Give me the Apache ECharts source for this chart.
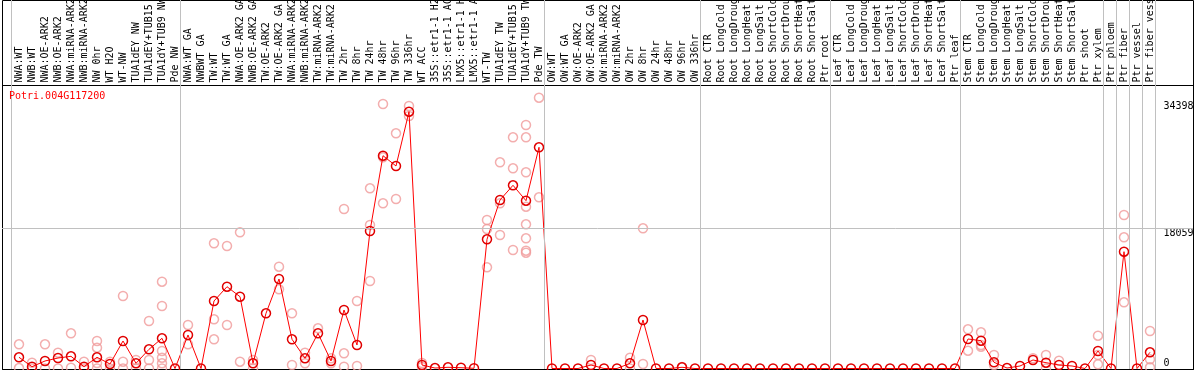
<!DOCTYPE html>
<html><head><meta charset="utf-8">
<script src="https://cdn.jsdelivr.net/npm/echarts@6/dist/echarts.min.js"></script>
<style>html,body{margin:0;padding:0;background:#fff}#c{width:1194px;height:370px}</style>
</head><body><div id="c"></div>
<script>
const geneId = 'Potri.004G117200';

const categories = [
  'NWA:WT','NWB:WT','NWA:OE-ARK2','NWB:OE-ARK2','NWA:miRNA-ARK2','NWB:miRNA-ARK2','NW 0hr','WT H2O','WT-NW','TUA1dEY NW','TUA1dEY+TUB15 NW','TUA1dY+TUB9 NW','Pde NW',
  'NWA:WT GA','NWBWT GA','TW:WT','TW:WT GA','NWA:OE-ARK2 GA','NWB:OE-ARK2 GA','TW:OE-ARK2','TW:OE-ARK2 GA','NWA:miRNA-ARK2','NWB:miRNA-ARK2','TW:miRNA-ARK2','TW:miRNA-ARK2','TW 2hr','TW 8hr','TW 24hr','TW 48hr','TW 96hr','TW 336hr','WT ACC','35S::etr1-1 H2O','35S::etr1-1 ACC','LMX5::etr1-1 H2O','LMX5::etr1-1 ACC','WT-TW','TUA1dEY TW','TUA1dEY+TUB15 TW','TUA1dY+TUB9 TW','Pde TW',
  'OW:WT','OW:WT GA','OW:OE-ARK2','OW:OE-ARK2 GA','OW:miRNA-ARK2','OW:miRNA-ARK2','OW 2hr','OW 8hr','OW 24hr','OW 48hr','OW 96hr','OW 336hr',
  'Root CTR','Root LongCold','Root LongDrought','Root LongHeat','Root LongSalt','Root ShortCold','Root ShortDrought','Root ShortHeat','Root ShortSalt','Ptr root',
  'Leaf CTR','Leaf LongCold','Leaf LongDrought','Leaf LongHeat','Leaf LongSalt','Leaf ShortCold','Leaf ShortDrought','Leaf ShortHeat','Leaf ShortSalt','Ptr leaf',
  'Stem CTR','Stem LongCold','Stem LongDrought','Stem LongHeat','Stem LongSalt','Stem ShortCold','Stem ShortDrought','Stem ShortHeat','Stem ShortSalt','Ptr shoot','Ptr xylem',
  'Ptr phloem','Ptr fiber','Ptr vessel','Ptr fiber vessel'
];

const means = [
  1443, 232, 966, 1352, 1571, 232, 1443, 580, 3542, 670, 2473, 3890, 0,
  4315, 0, 8694, 10536, 9248, 670, 7110, 11528, 3761, 1314, 4534, 966, 7535, 3027, 17710, 27409, 26082, 33076, 451, 60, 155, 100, 30, 16641, 21703, 23596, 21613, 28491,
  0, 0, 0, 451, 0, 0, 670, 6247, 0, 0, 155, 0,
  0, 0, 0, 0, 0, 0, 0, 0, 0, 0,
  0, 0, 0, 0, 0, 0, 0, 0, 0, 0,
  3800, 3581, 799, 60, 322, 1095, 747, 451, 322, 0, 2254,
  0, 15044, 0, 2087
];

const replicates = [
  [3117, 60], [747, 0], [3117, 0], [2035, 0], [4534, 100], [876, 0], [3542, 2679, 708, 0], [876, 0], [9338, 876, 0], [1095, 0], [6118, 1095, 0], [11180, 8050, 2254, 1391, 670, 0], [],
  [5603, 3117], [], [16126, 6337, 3761], [15778, 5603], [17543, 876], [1095, 0], [], [13112, 10201], [7110, 451], [2035, 670], [5178], [1314, 670], [20544, 1958, 232], [8694, 322], [23210, 18483, 11270], [34068, 27203, 21278], [30294, 21832], [33810, 32522], [700, 200], [], [], [], [], [19127, 17968, 13035], [26559, 21278, 17195], [29779, 25786, 15263], [31363, 29779, 25271, 20840, 18573, 16770, 15173, 14915], [34880, 22051],
  [], [], [], [1095], [], [], [1391, 0], [18058, 580], [], [], [200], [],
  [], [], [], [], [], [], [], [], [], [],
  [], [], [], [], [], [], [], [], [], [],
  [5049, 2293], [4663, 3027, 2808], [1739, 451], [], [], [1314], [1739, 0], [1005], [], [], [4225, 1739, 541],
  [], [19771, 16899, 8527], [], [4830, 1185, 155]
];

const yTopLabels = [18059, 34398];
const yBottomLabels = [0];
const refLineValue = 18059;
const groupBoundaries = [0, 13, 41, 53, 63, 73, 84, 85, 86, 87, 88];
const Y_MAX = 36450;

const repData = [];
replicates.forEach(function (arr, i) { arr.forEach(function (v) { repData.push([i, v]); }); });

const mono = 'DejaVu Sans Mono';
const chart = echarts.init(document.getElementById('c'), null, { renderer: 'canvas' });
const hiddenVal = function (g, max) { return { gridIndex: g, type: 'value', min: 0, max: max, show: false }; };
const plain = function (v) { return String(v); };
chart.setOption({
  animation: false,
  backgroundColor: '#ffffff',
  title: { text: geneId, left: 9, top: 91, padding: 0, textStyle: { color: '#ff0000', fontFamily: mono, fontSize: 10, fontWeight: 'normal' } },
  grid: [
    { left: 12.5, right: 37.5, top: 85.5, bottom: 1.5, containLabel: false, outerBoundsMode: 'none' },
    { left: 11.5, right: 38.5, top: 0, bottom: 1, outerBoundsMode: 'none' },
    { left: 2, right: 1, top: 85.5, bottom: 1.5, outerBoundsMode: 'none' },
    { left: 2.5, right: 0.5, top: 0.5, bottom: 0.5, show: true, borderColor: '#000', borderWidth: 1, outerBoundsMode: 'none' },
    { left: 2.5, right: 0.5, top: 85.5, bottom: 0.5, show: true, borderColor: '#000', borderWidth: 1, outerBoundsMode: 'none' }
  ],
  xAxis: [
    { gridIndex: 0, type: 'category', data: categories, position: 'top', boundaryGap: true,
      axisLine: { show: false }, axisTick: { show: false }, splitLine: { show: false },
      axisLabel: { interval: 0, rotate: 90, margin: 3, fontFamily: mono, fontSize: 10, color: '#000' } },
    hiddenVal(1, 88), hiddenVal(2, 1), hiddenVal(3, 1), hiddenVal(4, 1)
  ],
  yAxis: [
    { gridIndex: 0, type: 'value', min: 0, max: Y_MAX, position: 'right',
      axisLine: { show: false }, axisTick: { show: false }, splitLine: { show: false },
      axisLabel: { customValues: yTopLabels, formatter: plain, verticalAlign: 'top', align: 'left', margin: 7, fontFamily: mono, fontSize: 10, color: '#000' } },
    { gridIndex: 0, type: 'value', min: 0, max: Y_MAX, position: 'right',
      axisLine: { show: false }, axisTick: { show: false }, splitLine: { show: false },
      axisLabel: { customValues: yBottomLabels, formatter: plain, verticalAlign: 'bottom', align: 'left', margin: 7, fontFamily: mono, fontSize: 10, color: '#000' } },
    hiddenVal(1, 1), hiddenVal(2, Y_MAX), hiddenVal(3, 1), hiddenVal(4, 1)
  ],
  series: [
    { type: 'scatter', xAxisIndex: 1, yAxisIndex: 2, data: [], silent: true,
      markLine: { silent: true, symbol: 'none', label: { show: false }, animation: false,
        lineStyle: { color: '#c0c0c0', width: 1, type: 'solid' },
        data: groupBoundaries.map(function (b) { return { xAxis: b }; }) } },
    { type: 'scatter', xAxisIndex: 2, yAxisIndex: 3, data: [], silent: true,
      markLine: { silent: true, symbol: 'none', label: { show: false }, animation: false,
        lineStyle: { color: '#c0c0c0', width: 1, type: 'solid' },
        data: [{ yAxis: refLineValue }] } },
    { type: 'scatter', xAxisIndex: 0, yAxisIndex: 0, data: repData, symbol: 'circle', symbolSize: 9, silent: true,
      itemStyle: { color: 'rgba(0,0,0,0)', borderColor: '#f09a9a', borderWidth: 1.5 } },
    { type: 'line', xAxisIndex: 0, yAxisIndex: 0, data: means, symbol: 'circle', symbolSize: 9, showAllSymbol: true, silent: true,
      lineStyle: { color: '#ff0000', width: 1 },
      itemStyle: { color: 'rgba(0,0,0,0)', borderColor: '#e00000', borderWidth: 1.5 } }
  ]
});
</script>
</body></html>
